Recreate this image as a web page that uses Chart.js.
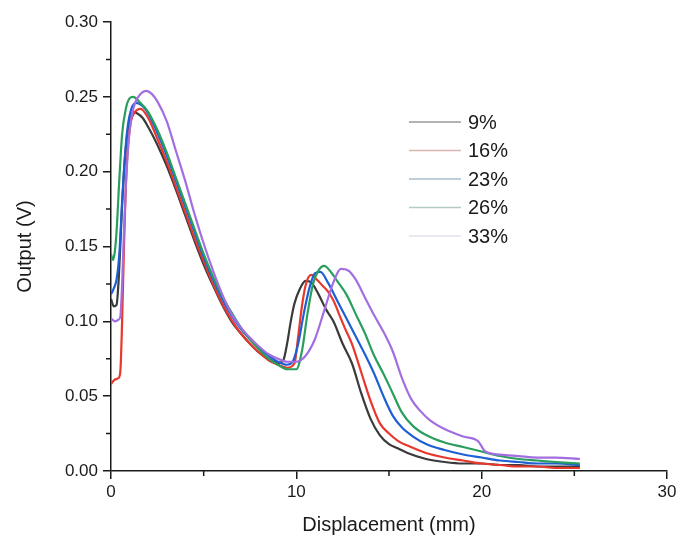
<!DOCTYPE html>
<html>
<head>
<meta charset="utf-8">
<script src="https://cdn.jsdelivr.net/npm/chart.js@4/dist/chart.umd.min.js"></script>
<style>
  html, body { margin: 0; padding: 0; background: #fff; }
  #wrap { width: 680px; height: 542px; }
</style>
</head>
<body>
<div id="wrap"><canvas id="c" width="680" height="542"></canvas></div>
<script>
/* Output vs displacement, five moisture levels */
const seriesLabels = ['9%', '16%', '23%', '26%', '33%'];
const seriesColors = ['#3a3a3a', '#e8372c', '#1f5fd4', '#2a9e5c', '#a26ee0'];
const legendColors = ['#9a9a9a', '#dcb4b0', '#a9bccb', '#b3cbbf', '#e4dfea'];

const x9  = [0, 0.15, 0.3, 0.4, 0.5, 0.6, 0.7, 0.85, 1.0, 1.2, 1.4, 1.7, 2.0, 2.5, 3.0, 3.5, 4.0, 4.5, 5.0, 5.5, 6.0, 6.5, 7.0, 7.5, 8.0, 8.5, 9.0, 9.3, 9.5, 9.7, 9.9, 10.2, 10.5, 10.8, 11.2, 11.6, 12.0, 12.5, 13.0, 13.5, 14.0, 14.5, 15.0, 15.5, 16.0, 17.0, 18.0, 19.0, 20.0, 21.0, 22.0, 23.0, 24.0, 25.3];
const y9  = [0.115, 0.110, 0.111, 0.125, 0.150, 0.178, 0.200, 0.222, 0.234, 0.240, 0.239, 0.236, 0.230, 0.218, 0.204, 0.188, 0.171, 0.154, 0.138, 0.124, 0.111, 0.100, 0.092, 0.085, 0.079, 0.075, 0.072, 0.074, 0.085, 0.100, 0.112, 0.122, 0.127, 0.126, 0.118, 0.108, 0.100, 0.085, 0.072, 0.052, 0.035, 0.024, 0.018, 0.015, 0.012, 0.008, 0.006, 0.005, 0.005, 0.004, 0.004, 0.003, 0.003, 0.003];

const x16 = [0, 0.2, 0.4, 0.5, 0.6, 0.7, 0.8, 0.9, 1.05, 1.3, 1.6, 2.0, 2.5, 3.0, 3.5, 4.0, 4.5, 5.0, 5.5, 6.0, 6.5, 7.0, 7.5, 8.0, 8.5, 9.0, 9.5, 9.9, 10.1, 10.3, 10.5, 10.8, 11.1, 11.4, 11.7, 12.0, 12.3, 12.6, 13.0, 13.5, 14.0, 14.5, 15.0, 15.5, 16.0, 17.0, 18.0, 19.0, 20.0, 21.0, 22.0, 23.0, 24.0, 25.3];
const y16 = [0.058, 0.061, 0.062, 0.066, 0.100, 0.150, 0.190, 0.215, 0.232, 0.240, 0.242, 0.236, 0.222, 0.207, 0.190, 0.173, 0.156, 0.140, 0.125, 0.112, 0.101, 0.092, 0.085, 0.079, 0.074, 0.071, 0.069, 0.072, 0.090, 0.110, 0.124, 0.131, 0.128, 0.124, 0.120, 0.114, 0.105, 0.096, 0.085, 0.066, 0.047, 0.032, 0.025, 0.020, 0.017, 0.012, 0.009, 0.007, 0.005, 0.004, 0.003, 0.003, 0.002, 0.002];

const x23 = [0, 0.15, 0.3, 0.45, 0.6, 0.75, 0.9, 1.1, 1.35, 1.7, 2.0, 2.5, 3.0, 3.5, 4.0, 4.5, 5.0, 5.5, 6.0, 6.5, 7.0, 7.5, 8.0, 8.5, 9.0, 9.5, 9.8, 10.1, 10.4, 10.7, 11.0, 11.3, 11.7, 12.2, 12.7, 13.2, 13.7, 14.2, 14.7, 15.2, 15.7, 16.3, 17.0, 18.0, 19.0, 20.0, 21.0, 22.0, 23.0, 24.0, 25.3];
const y23 = [0.118, 0.122, 0.128, 0.145, 0.180, 0.210, 0.230, 0.242, 0.246, 0.244, 0.239, 0.226, 0.211, 0.194, 0.177, 0.160, 0.143, 0.128, 0.115, 0.104, 0.095, 0.088, 0.082, 0.077, 0.073, 0.071, 0.073, 0.085, 0.105, 0.122, 0.132, 0.133, 0.126, 0.114, 0.102, 0.090, 0.078, 0.065, 0.050, 0.037, 0.029, 0.023, 0.018, 0.014, 0.011, 0.009, 0.007, 0.006, 0.005, 0.005, 0.004];

const x26 = [0, 0.1, 0.2, 0.3, 0.45, 0.6, 0.8, 1.0, 1.2, 1.5, 2.0, 2.5, 3.0, 3.5, 4.0, 4.5, 5.0, 5.5, 6.0, 6.5, 7.0, 7.5, 8.0, 8.5, 9.0, 9.5, 10.0, 10.3, 10.6, 10.9, 11.2, 11.5, 11.8, 12.2, 12.7, 13.2, 13.7, 14.2, 14.7, 15.2, 15.7, 16.3, 17.0, 18.0, 19.0, 20.0, 21.0, 22.0, 23.0, 24.0, 25.3];
const y26 = [0.145, 0.141, 0.146, 0.160, 0.195, 0.225, 0.242, 0.249, 0.250, 0.247, 0.240, 0.228, 0.213, 0.196, 0.179, 0.162, 0.145, 0.130, 0.117, 0.106, 0.096, 0.088, 0.081, 0.075, 0.071, 0.068, 0.068, 0.080, 0.105, 0.125, 0.134, 0.137, 0.134, 0.127, 0.118, 0.105, 0.092, 0.077, 0.065, 0.052, 0.039, 0.030, 0.024, 0.019, 0.016, 0.013, 0.010, 0.008, 0.007, 0.006, 0.005];

const x33 = [0, 0.2, 0.4, 0.5, 0.6, 0.7, 0.8, 0.95, 1.1, 1.3, 1.6, 1.9, 2.2, 2.5, 3.0, 3.5, 4.0, 4.5, 5.0, 5.5, 6.0, 6.5, 7.0, 7.5, 8.0, 8.5, 9.0, 9.5, 10.0, 10.5, 11.0, 11.5, 12.0, 12.4, 12.8, 13.2, 13.7, 14.2, 14.7, 15.2, 15.7, 16.2, 16.7, 17.2, 18.0, 19.0, 19.8, 20.2, 21.0, 22.0, 23.0, 24.0, 25.3];
const y33 = [0.102, 0.100, 0.101, 0.103, 0.125, 0.160, 0.190, 0.220, 0.236, 0.246, 0.252, 0.254, 0.252, 0.247, 0.234, 0.214, 0.194, 0.172, 0.152, 0.134, 0.118, 0.105, 0.096, 0.089, 0.083, 0.078, 0.075, 0.073, 0.073, 0.077, 0.088, 0.107, 0.126, 0.135, 0.134, 0.128, 0.116, 0.104, 0.093, 0.080, 0.062, 0.048, 0.040, 0.034, 0.028, 0.023, 0.020, 0.013, 0.011, 0.010, 0.009, 0.009, 0.008];

const xTicks = [0, 10, 20, 30];
const yTicks = [0, 0.05, 0.10, 0.15, 0.20, 0.25, 0.30];
const xMinor = [5, 15, 25];
const yMinor = [0.025, 0.075, 0.125, 0.175, 0.225, 0.275];

const xs = [x9, x16, x23, x26, x33];
const ys = [y9, y16, y23, y26, y33];

const FONT = '"Liberation Sans", Arial, sans-serif';
const INK = '#1a1a1a';

function points(xa, ya) { return xa.map((x, i) => ({ x: x, y: ya[i] })); }

// minor ticks + in-plot legend
const extras = {
  id: 'extras',
  afterDraw(chart) {
    const ctx = chart.ctx, xs_ = chart.scales.x, ys_ = chart.scales.y;
    const a = chart.chartArea;
    ctx.save();
    ctx.strokeStyle = INK; ctx.lineWidth = 1.5;
    ctx.beginPath();
    xMinor.forEach(v => { const p = xs_.getPixelForValue(v); ctx.moveTo(p, a.bottom); ctx.lineTo(p, a.bottom + 5); });
    yMinor.forEach(v => { const p = ys_.getPixelForValue(v); ctx.moveTo(a.left, p); ctx.lineTo(a.left - 5, p); });
    ctx.stroke();

    ctx.font = '20px ' + FONT;
    ctx.textBaseline = 'middle';
    ctx.fillStyle = INK;
    seriesLabels.forEach((t, i) => {
      const yy = 122 + i * 28.5;
      ctx.strokeStyle = legendColors[i]; ctx.lineWidth = 1.3;
      ctx.beginPath(); ctx.moveTo(409, yy); ctx.lineTo(461, yy); ctx.stroke();
      ctx.fillText(t, 468, yy + 1);
    });
    ctx.restore();
  }
};

new Chart(document.getElementById('c').getContext('2d'), {
  type: 'line',
  data: {
    datasets: seriesLabels.map((lab, i) => ({
      label: lab,
      data: points(xs[i], ys[i]),
      borderColor: seriesColors[i],
      backgroundColor: 'transparent',
      borderWidth: 2.2,
      pointRadius: 0,
      cubicInterpolationMode: 'monotone',
      order: 5 - i,
    })),
  },
  options: {
    responsive: false, animation: false,
    layout: { padding: { top: 22, right: 13, left: 0, bottom: 0 } },
    plugins: { legend: { display: false }, tooltip: { enabled: false } },
    scales: {
      x: {
        type: 'linear', min: 0, max: 30,
        afterBuildTicks: s => { s.ticks = xTicks.map(v => ({ value: v })); },
        afterFit: s => { s.height = 71; },
        ticks: { color: INK, font: { size: 17, family: FONT }, padding: 3, maxRotation: 0 },
        grid: { display: true, drawOnChartArea: false, tickLength: 8, color: INK, lineWidth: 1.5 },
        border: { display: true, color: INK, width: 1.5 },
        title: { display: true, text: 'Displacement (mm)', color: INK, font: { size: 20, family: FONT }, padding: { top: 0, bottom: 5 } },
      },
      y: {
        min: 0, max: 0.3,
        afterBuildTicks: s => { s.ticks = yTicks.map(v => ({ value: v })); },
        afterFit: s => { s.width = 111; },
        ticks: { color: INK, font: { size: 17, family: FONT }, padding: 5, callback: v => v.toFixed(2) },
        grid: { display: true, drawOnChartArea: false, tickLength: 8, color: INK, lineWidth: 1.5 },
        border: { display: true, color: INK, width: 1.5 },
        title: { display: true, text: 'Output (V)', color: INK, font: { size: 20, family: FONT }, padding: { top: 13, bottom: 0 } },
      },
    },
  },
  plugins: [extras],
});
</script>
</body>
</html>
